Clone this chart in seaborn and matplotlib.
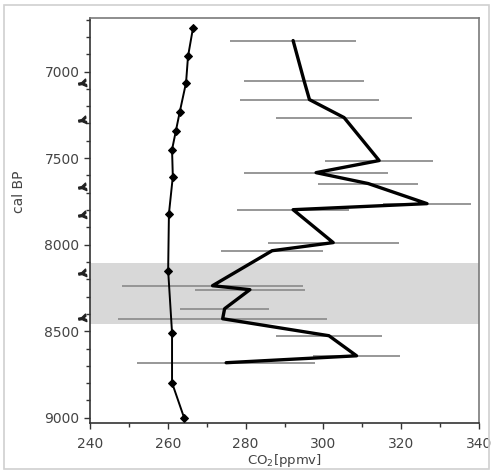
import matplotlib
matplotlib.use("Agg")
import matplotlib.pyplot as plt
import seaborn as sns
import pandas as pd
from matplotlib.patches import Rectangle
from matplotlib.markers import MarkerStyle
from matplotlib.transforms import Affine2D
from matplotlib.ticker import MultipleLocator

sns.set_style("white")
plt.rcParams['font.family'] = ['DejaVu Sans']

# CO2 record (ppmv) with uncertainty
co2_age = [6821, 7052, 7162, 7266, 7514, 7584, 7647, 7763, 7798, 7988,
           8035, 8237, 8260, 8370, 8428, 8526, 8642, 8682]
co2_val = [292.2, 295.0, 296.4, 305.3, 314.3, 298.1, 311.5, 326.6, 292.2, 302.5,
           286.8, 271.5, 281.1, 274.6, 274.1, 301.4, 308.5, 275.0]
co2_err = [16.2, 15.3, 17.9, 17.5, 13.9, 18.4, 12.9, 11.2, 14.4, 16.8,
           13.2, 23.3, 14.1, 11.4, 26.9, 13.6, 11.2, 22.9]

# Reference curve with markers
ref_age = [6746, 6913, 7064, 7231, 7341, 7451, 7607, 7821, 8150, 8509, 8798, 9000]
ref_val = [266.5, 265.2, 264.7, 263.1, 262.1, 261.1, 261.3, 260.3, 260.1, 261.1, 261.1, 264.2]

# Markers along the age axis
mark_age = [7064, 7277, 7665, 7827, 8162, 8422]

# Shaded interval
shade_top, shade_bottom = 8104, 8457

co2 = pd.DataFrame({"age": co2_age, "co2": co2_val, "err": co2_err})
ref = pd.DataFrame({"age": ref_age, "val": ref_val})

fig = plt.figure(figsize=(4.94, 4.71), dpi=100)
ax = fig.add_axes([0.182, 0.102, 0.788, 0.860])

ax.axhspan(shade_top, shade_bottom, color="#d8d8d8", lw=0, zorder=0)

ax.hlines(co2["age"], co2["co2"] - co2["err"], co2["co2"] + co2["err"],
          color="#8f8f8f", lw=1.3, zorder=2)
sns.lineplot(data=co2, x="co2", y="age", sort=False, estimator=None,
             color="black", lw=2.4, ax=ax, zorder=3)
sns.lineplot(data=ref, x="val", y="age", sort=False, estimator=None,
             color="black", lw=1.4, marker="D", markersize=4,
             markeredgecolor="black", ax=ax, zorder=4)

ymark = MarkerStyle(r"$\mathbf{Y}$", transform=Affine2D().rotate_deg(-80))
for a in mark_age:
    ax.plot([237.9], [a], marker=ymark, color="#222222", linestyle="none",
            markersize=5.5, clip_on=False, zorder=5)

ax.set_xlim(240, 340)
ax.set_ylim(9030, 6690)
ax.xaxis.set_major_locator(MultipleLocator(20))
ax.xaxis.set_minor_locator(MultipleLocator(10))
ax.yaxis.set_major_locator(MultipleLocator(500))
ax.yaxis.set_minor_locator(MultipleLocator(100))
ax.tick_params(which="both", direction="out", bottom=True, left=True,
               top=False, right=False, color="#333333", width=1.0)
ax.tick_params(which="major", length=4, labelsize=10, labelcolor="#444444")
ax.tick_params(axis="x", which="major", pad=6)
ax.tick_params(which="minor", length=3)

for s in ["left", "bottom"]:
    ax.spines[s].set_color("#333333")
    ax.spines[s].set_linewidth(1.2)
for s in ["top", "right"]:
    ax.spines[s].set_color("#7a7a7a")
    ax.spines[s].set_linewidth(1.2)

ax.set_xlabel(r"CO$_2$[ppmv]", fontsize=9.5, color="#444444", labelpad=1)
ax.set_ylabel("cal BP", fontsize=10, color="#444444")
ax.yaxis.set_label_coords(-0.165, 0.57)

fig.patches.append(Rectangle((0.008, 0.004), 0.982, 0.986, transform=fig.transFigure,
                             fill=False, edgecolor="#d0d0d0", lw=1.2))

fig.savefig("out.png", dpi=100)
